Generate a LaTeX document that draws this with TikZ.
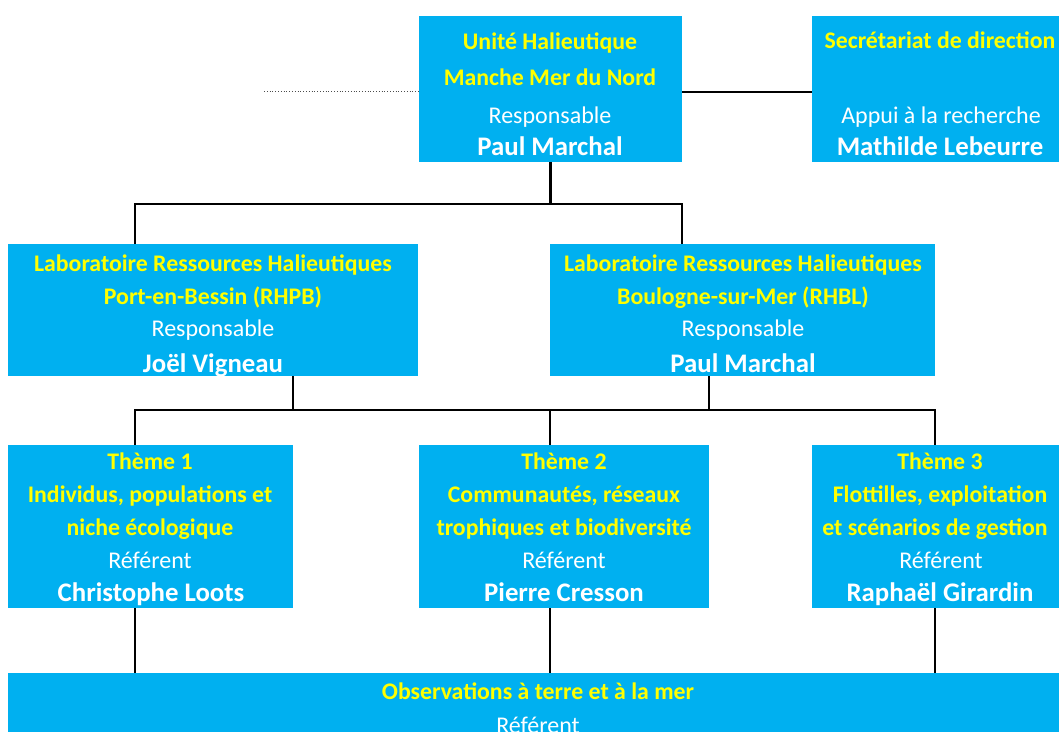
\documentclass[tikz,border=0pt]{standalone}
\usepackage{fontspec}
\setmainfont{Carlito}
\definecolor{boxblue}{HTML}{00B0F0}
\definecolor{ttlyellow}{HTML}{FFFF00}
\tikzset{
  box/.style={fill=boxblue, draw=none, inner sep=0pt, outer sep=0pt, anchor=north west},
  ttl/.style={text=ttlyellow, font=\bfseries\fontsize{23.8}{28}\selectfont, inner sep=0pt, anchor=base},
  role/.style={text=white, font=\fontsize{24}{28}\selectfont, inner sep=0pt, anchor=base},
  person/.style={text=white, font=\bfseries\fontsize{26.8}{31}\selectfont, inner sep=0pt, anchor=base},
  conn/.style={draw=black, line width=2.6pt},
  thin conn/.style={draw=black, line width=2pt},
}
\begin{document}
\begin{tikzpicture}[x=1pt,y=-1pt]
\useasboundingbox (0,0) rectangle (1059,731);
\clip (0,0) rectangle (1059,731);
% boxes
\node[box, minimum width=263pt, minimum height=146pt] (u) at (419,16) {};
\node[box, minimum width=260pt, minimum height=146pt] (s) at (812,16) {};
\node[box, minimum width=410pt, minimum height=132pt] (l1) at (8,244) {};
\node[box, minimum width=385pt, minimum height=132pt] (l2) at (550,244) {};
\node[box, minimum width=285pt, minimum height=163pt] (t1) at (8,445) {};
\node[box, minimum width=290pt, minimum height=163pt] (t2) at (419,445) {};
\node[box, minimum width=260pt, minimum height=163pt] (t3) at (812,445) {};
\node[box, minimum width=1060pt, minimum height=80pt] (obs) at (8,673) {};
% texts
\node[ttl] (u1) at (550,49) {Unité Halieutique};
\node[ttl] (u2) at (550,85) {Manche Mer du Nord};
\node[role] (u3) at (550,123) {Responsable};
\node[person] (u4) at (550,155) {Paul Marchal};
\node[ttl] (s1) at (940,48) {Secrétariat de direction};
\node[role] (s2) at (941,123) {Appui à la recherche};
\node[person] (s3) at (940,155) {Mathilde Lebeurre};
\node[ttl] (a1) at (213,271) {Laboratoire Ressources Halieutiques};
\node[ttl] (a2) at (213,304) {Port-en-Bessin (RHPB)};
\node[role] (a3) at (213,336) {Responsable};
\node[person] (a4) at (213,372) {Joël Vigneau};
\node[ttl] (b1) at (743,271) {Laboratoire Ressources Halieutiques};
\node[ttl] (b2) at (743,304) {Boulogne-sur-Mer (RHBL)};
\node[role] (b3) at (743,336) {Responsable};
\node[person] (b4) at (743,372) {Paul Marchal};
\node[ttl] (c1) at (150,469) {Thème 1};
\node[ttl] (c2) at (150,502) {Individus, populations et};
\node[ttl] (c3) at (150,535) {niche écologique};
\node[role] (c4) at (150,568) {Référent};
\node[person] (c5) at (151,601) {Christophe Loots};
\node[ttl] (d1) at (564,469) {Thème 2};
\node[ttl] (d2) at (564,502) {Communautés, réseaux};
\node[ttl] (d3) at (564,535) {trophiques et biodiversité};
\node[role] (d4) at (564,568) {Référent};
\node[person] (d5) at (564,601) {Pierre Cresson};
\node[ttl] (e1) at (940,469) {Thème 3};
\node[ttl] (e2) at (940,502) {Flottilles, exploitation};
\node[ttl] (e3) at (935,535) {et scénarios de gestion};
\node[role] (e4) at (941,568) {Référent};
\node[person] (e5) at (940,601) {Raphaël Girardin};
\node[ttl] (o1) at (538,699) {Observations à terre et à la mer};
\node[role] (o2) at (538,733) {Référent};
% junction coordinates
\coordinate (dotend) at (264,91);
\coordinate (hl) at (682,92);
\coordinate (j1) at (135,204);
\coordinate (j2) at (682,204);
\coordinate (k1) at (135,410);
\coordinate (k2) at (550,410);
\coordinate (k3) at (935,410);
\coordinate (m1) at (293,410);
\coordinate (m2) at (709,410);
% connectors
\draw[dotted, line width=0.8pt, black!70] (dotend) -- (dotend -| u.west);
\draw[conn] (hl) -- (hl -| s.west);
\draw[conn] (u.south) -- (u.south |- j1);
\draw[conn] (j1 |- l1.north) -- (j1) -- (j2) -- (j2 |- l2.north);
\draw[conn] (l1.south -| m1) -- (m1);
\draw[conn] (l2.south -| m2) -- (m2);
\draw[conn] (k1 |- t1.north) -- (k1) -- (k3) -- (k3 |- t3.north);
\draw[conn] (k2) -- (k2 |- t2.north);
\draw[thin conn] (k1 |- t1.south) -- (k1 |- obs.north);
\draw[thin conn] (k2 |- t2.south) -- (k2 |- obs.north);
\draw[thin conn] (k3 |- t3.south) -- (k3 |- obs.north);
\end{tikzpicture}
\end{document}
